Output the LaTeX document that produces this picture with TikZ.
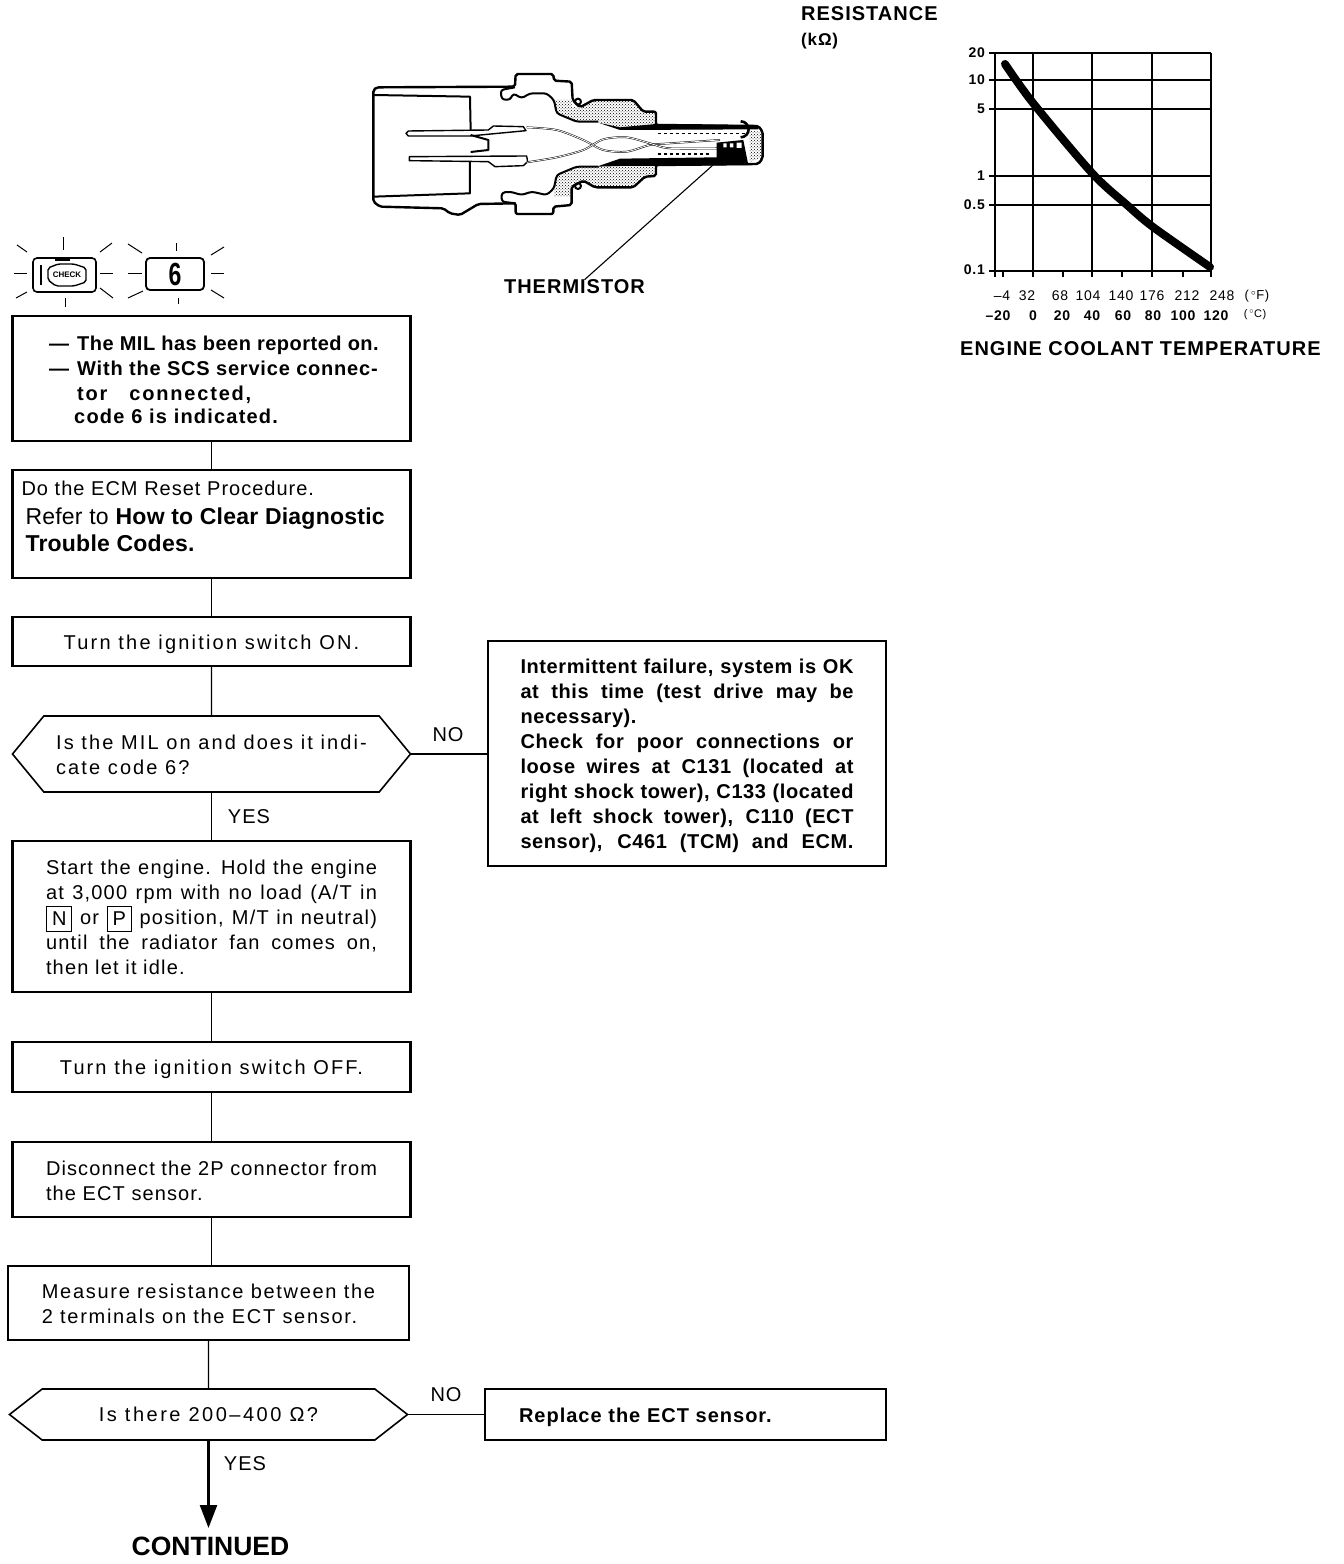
\documentclass[tikz,border=0pt]{standalone}
\usepackage{fontspec}
\setmainfont{Liberation Sans}[LetterSpace=5]
\newfontfamily\plainfont{Liberation Sans}
\usepackage{xcolor}
\usetikzlibrary{arrows.meta,positioning,patterns,shapes.symbols}

\newcommand{\fitline}[2][333pt]{\makebox[#1][s]{\spaceskip=0.28em plus 1fil\relax #2}}
\newcommand{\keycap}[1]{\smash{\raisebox{-1pt}{\fboxsep=5pt\fboxrule=1pt\fbox{#1}}}}
\newcommand{\lift}[1]{\rule{0pt}{#1}}

\begin{document}
\begin{tikzpicture}[
    x=1pt, y=-1pt,
    node distance=39pt,
    box/.style={draw, line width=2.2pt, outer sep=0pt, inner sep=0pt, minimum width=398pt, align=left,
        font=\fontsize{20}{25}\selectfont},
    tracked/.style={font=\fontsize{20}{25}\selectfont\addfontfeature{LetterSpace=#1}},
    boldtracked/.style={font=\fontsize{20}{25}\selectfont\bfseries\addfontfeature{LetterSpace=#1}},
    hexbox/.style={box, line width=1.6pt, signal, signal to=west and east},
    oneline/.style={text height=15pt, text depth=0pt},
    link/.style={line width=1.2pt},
    label/.style={font=\fontsize{20}{24}\selectfont, inner sep=0pt},
    boldlabel/.style={font=\fontsize{20}{24}\selectfont\bfseries, inner sep=0pt},
    tick/.style={font=\fontsize{14}{16}\selectfont\bfseries, inner sep=0pt},
    ray/.style={line width=1pt},
    part/.style={line width=2pt, line join=round},
    wire/.style={line width=0.5pt, double, double distance=0.8pt}
]
\useasboundingbox (0,0) rectangle (1344,1564);

% Flow boxes
\node[box, boldtracked=2.5, minimum height=125pt] at (211.5,378.5) (reported)
    {\lift{16.5pt}\hspace*{5pt}\makebox[28pt][l]{---}The MIL has been reported on.\\
     \hspace*{5pt}\makebox[28pt][l]{---}{\addfontfeature{LetterSpace=4}With the SCS service connec-}\\
     \hspace*{33pt}{\addfontfeature{LetterSpace=9}tor\hspace{22pt}connected,}\\[-2pt]
     \hspace*{30pt}{\addfontfeature{LetterSpace=6}code 6 is indicated.}};
\node[box, minimum height=108pt, below=29pt of reported, text width=380pt, inner xsep=9pt, font=\fontsize{20}{27}\selectfont] (reset)
    {Do the ECM Reset Procedure.\\[2pt]
     \hspace*{4pt}{\fontsize{23}{27}\selectfont\addfontfeature{LetterSpace=1}Refer to \textbf{How to Clear Diagnostic}}\\
     \hspace*{4pt}{\fontsize{23}{27}\selectfont\addfontfeature{LetterSpace=1}\textbf{Trouble Codes.}}\rule[-16pt]{0pt}{0pt}};
\node[box, tracked=11, oneline, minimum height=49pt, below=of reset] (ignon) {Turn the ignition switch ON.};
\node[hexbox, tracked=10.5, minimum height=76pt, signal pointer angle=101, below=50pt of ignon] (milon)
    {\lift{16.5pt}Is the MIL on and does it indi-\\cate code 6?};
\node[box, tracked=6, minimum height=151pt, text width=331pt, inner xsep=33.5pt, below=49pt of milon] (start)
    {\lift{16.5pt}\fitline[331pt]{Start the engine. Hold the engine}\\
     \fitline[331pt]{at 3,000 rpm with no load (A/T in}\\
     \fitline[331pt]{\keycap{N} or \keycap{P} position, M/T in neutral)}\\
     \fitline[331pt]{until the radiator fan comes on,}\\
     then let it idle.};
\node[box, tracked=10.5, oneline, minimum height=50pt, below=50pt of start] (ignoff) {Turn the ignition switch OFF.};
\node[box, tracked=5.5, minimum height=75pt, below=50pt of ignoff] (unplug)
    {\lift{16.5pt}Disconnect the 2P connector from\\the ECT sensor.};
\node[box, tracked=8.5, minimum height=74pt, minimum width=401pt, below=49pt of unplug, xshift=-3pt] (measure)
    {\lift{16.5pt}Measure resistance between the\\2 terminals on the ECT sensor.};
\node[hexbox, tracked=12.5, minimum height=51pt, minimum width=398pt, signal pointer angle=76, below=49pt of measure] (ohms)
    {Is there 200--400 Ω?};
\node[font=\fontsize{26.5}{30}\selectfont\bfseries, inner sep=0pt, below=97pt of ohms, xshift=2pt] (continued) {\addfontfeature{LetterSpace=0}CONTINUED};

% Side boxes
\node[box, boldtracked=3, minimum height=225pt, text width=333pt, inner xsep=32.5pt, anchor=north west] at (488,641) (intermittent)
    {\lift{20pt}\fitline{Intermittent failure, system is OK}\\
     \fitline{at this time (test drive may be}\\
     necessary).\\
     \fitline{Check for poor connections or}\\
     \fitline{loose wires at C131 (located at}\\
     \fitline{right shock tower), C133 (located}\\
     \fitline{at left shock tower), C110 (ECT}\\
     \fitline{sensor), C461 (TCM) and ECM.}};
\node[box, boldtracked=5, oneline, minimum height=51pt, minimum width=401pt, text width=333pt, inner xsep=34pt, anchor=north west] at (485,1389) (replace)
    {Replace the ECT sensor.};

% Arrows
\draw[link] (reported) -- (reset);
\draw[link] (reset) -- (ignon);
\draw[link] (ignon) -- (milon);
\draw[link] (milon) -- (start);
\draw[link] (start) -- (ignoff);
\draw[link] (ignoff) -- (unplug);
\draw[link] (unplug.south) -- (measure.north -| unplug.south);
\draw[link] (measure) -- (ohms);
\draw[link] (milon.east) -- (milon.east -| intermittent.west);
\draw[link] (ohms.east) -- (ohms.east -| replace.west);
\draw[line width=2.4pt, -{Triangle[length=23pt,width=17pt]}, shorten >=9pt] (ohms.south) -- (ohms.south |- continued.north);

% Branch labels
\node[label] at (448,735) (nomil) {NO};
\node[label] at (249,817) (yesmil) {YES};
\node[label] at (446,1395) (noohms) {NO};
\node[label] at (245,1464) (yesohms) {YES};

% Warning lamps
\node[draw, line width=1.6pt, rounded corners=4pt, minimum width=63pt, minimum height=34pt, inner sep=0pt] at (64.5,275) (checklamp) {};
\node[draw, line width=1.8pt, rounded corners=4pt, minimum width=58pt, minimum height=32pt, inner sep=0pt] at (175,274) (codelamp) {\fontsize{32}{32}\selectfont\bfseries\scalebox{0.72}[1]{6}};
\draw[line width=1.4pt, rounded corners=2pt] (48,268) -- (58,264) -- (74,264) -- (86,268) -- (86,282) -- (74,286) -- (56,286) -- (48,280) -- cycle;
\draw[line width=1.8pt] (41,265) -- (41,285) (55,260) -- (70,260);
\node[inner sep=0pt, font=\fontsize{8}{8}\selectfont\bfseries\plainfont] at (67,275) (checktext) {CHECK};
\foreach \xa/\ya/\xb/\yb in {63/237/63/250, 100/252/112/243, 100/273/113/273, 100/288/113/298, 65/298/65/307, 16/298/27/292, 14/273/27/273, 17/245/27/252}
    \draw[ray] (\xa,\ya) -- (\xb,\yb);
\foreach \xa/\ya/\xb/\yb in {176/243/176/251, 211/255/224/247, 211/273/224/273, 211/290/224/298, 178/298/178/304, 128/298/143/291, 128/273/142/273, 128/244/142/253}
    \draw[ray] (\xa,\ya) -- (\xb,\yb);

% Sensor
\begin{scope}[shift={(350,50)}, x=0.3333pt, y=-0.3333pt]
  % stippled bushing
  \fill[pattern=crosshatch dots] (612,150) -- (620,190) -- (680,215) -- (745,215) -- (810,235) -- (918,225) -- (918,185) -- (880,185) -- (850,150) -- (730,150) -- (690,175) -- (665,170) -- (665,150) -- cycle;
  \fill[pattern=crosshatch dots] (612,415) -- (620,375) -- (680,350) -- (745,350) -- (810,330) -- (918,345) -- (918,378) -- (885,380) -- (850,412) -- (735,412) -- (700,395) -- (665,400) -- (665,440) -- (612,440) -- cycle;
  % body outline
  \draw[part, line width=2.4pt, rounded corners=2pt] (70,120) -- (80,112) -- (495,110) -- (497,72) -- (610,72) -- (612,92) -- (665,95) -- (668,150) -- (690,172) -- (730,150) -- (850,150) -- (880,185) -- (918,185) -- (918,225) -- (1225,228) -- (1238,245) -- (1238,325) -- (1225,342) -- (918,345) -- (918,378) -- (885,380) -- (850,412) -- (735,412) -- (700,392) -- (665,410) -- (665,465) -- (610,470) -- (610,492) -- (497,492) -- (497,460) -- (385,462) -- (330,495) -- (300,490) -- (280,475) -- (90,470) -- (70,455) -- cycle;
  \draw[part] (72,135) -- (360,140) -- (362,240);
  \draw[part] (360,335) -- (360,430) -- (72,440);
  \draw[part] (362,255) -- (415,270) -- (415,300) -- (362,306);
  % flange notches
  \draw[part, rounded corners=3pt] (495,112) -- (452,120) -- (455,148) -- (480,150) -- (490,130) -- (515,145) -- (540,130) -- (590,130) -- (612,150) -- (620,190) -- (680,215) -- (745,215);
  \draw[part, rounded corners=3pt] (497,460) -- (455,455) -- (455,428) -- (480,425) -- (515,435) -- (545,425) -- (590,435) -- (612,415) -- (620,375) -- (680,350) -- (745,350);
  \draw[part] (684,155) circle (9);
  \draw[part] (684,408) circle (9);
  % pins
  \draw[part, line width=1.4pt] (175,243) -- (415,240) -- (430,228) -- (520,230) -- (528,242) -- (360,258) -- (175,258) -- (168,250) -- cycle;
  \draw[part, line width=1.4pt] (178,320) -- (530,318) -- (533,335) -- (520,347) -- (435,350) -- (415,335) -- (178,332) -- cycle;
  % leads
  \draw[wire] plot[smooth] coordinates {(530,232) (620,240) (700,270) (760,300) (830,305) (900,285) (960,280) (1110,270)};
  \draw[wire] plot[smooth] coordinates {(530,337) (620,322) (700,300) (760,268) (830,262) (900,280) (960,295) (1110,295)};
  % dark sleeve
  \fill (745,218) -- (810,240) -- (1225,238) -- (1225,226) -- (918,222) -- (810,232) -- cycle;
  \fill (740,350) -- (810,326) -- (1100,322) -- (1100,278) -- (1180,270) -- (1195,345) -- (918,348) -- (810,348) -- cycle;
  \draw[line width=1.2pt, dashed] (925,250) -- (1190,250);
  \draw[line width=1.2pt, dashed] (925,312) -- (1085,312);
  \draw[line width=2.6pt] (1172,262) arc[start angle=90, end angle=-90, radius=24];
  \fill[white] (1120,280) rectangle (1130,292) (1140,280) rectangle (1150,292) (1160,278) rectangle (1175,294);
  \fill[pattern=crosshatch dots] (1200,242) -- (1235,245) -- (1235,325) -- (1200,335) -- cycle;
\end{scope}
\node[boldlabel] at (574.5,287) (thermistor) {THERMISTOR};
\coordinate (bead) at (713,165);
\draw[line width=1.1pt] (bead) -- ([xshift=10pt]thermistor.north);

% Resistance chart
\node[boldlabel, anchor=west] at (801,14) (resistance) {RESISTANCE};
\node[font=\fontsize{17}{18}\selectfont\bfseries, inner sep=0pt, anchor=west] at (801,41) (kohm) {(kΩ)};
\foreach \yline in {53,80,109,176,205,271}
    \draw[line width=1.4pt] (989,\yline) -- (1211,\yline);
\foreach \xline in {995,1033,1092,1152,1211}
    \draw[line width=1.8pt] (\xline,53) -- (\xline,277);
\foreach \xtick in {1003,1063,1122,1183}
    \draw[line width=1.8pt] (\xtick,271) -- (\xtick,277);
\draw[line width=8pt, line cap=round] plot[smooth] coordinates {(1005,64) (1033,103) (1092,173) (1127,205) (1153,227) (1210,267)};
\foreach \ypos/\ylab in {53/20, 80/10, 109/5, 176/1, 205/0.5, 270/0.1}
    \node[tick, anchor=east] at (985,\ypos) (res\ylab) {\ylab};
\foreach \xpos/\xlab in {1002/--4, 1027/32, 1060/68, 1088/104, 1121/140, 1152/176, 1187/212, 1222/248}
    \node[tick, font=\fontsize{14}{16}\selectfont] at (\xpos,296) {\xlab};
\node[tick, font=\fontsize{13}{16}\selectfont] at (1257,296) (degf) {(\,$^{\circ}$F)};
\foreach \xpos/\xlab in {998/--20, 1033/0, 1062/20, 1092/40, 1123/60, 1153/80, 1183/100, 1216/120}
    \node[tick] at (\xpos,316) {\xlab};
\node[tick, font=\fontsize{11}{16}\selectfont] at (1255,315) (degc) {(\,$^{\circ}$C)};
\node[boldlabel, anchor=west] at (960,349) (ectlabel) {ENGINE COOLANT TEMPERATURE};

\end{tikzpicture}
\end{document}
